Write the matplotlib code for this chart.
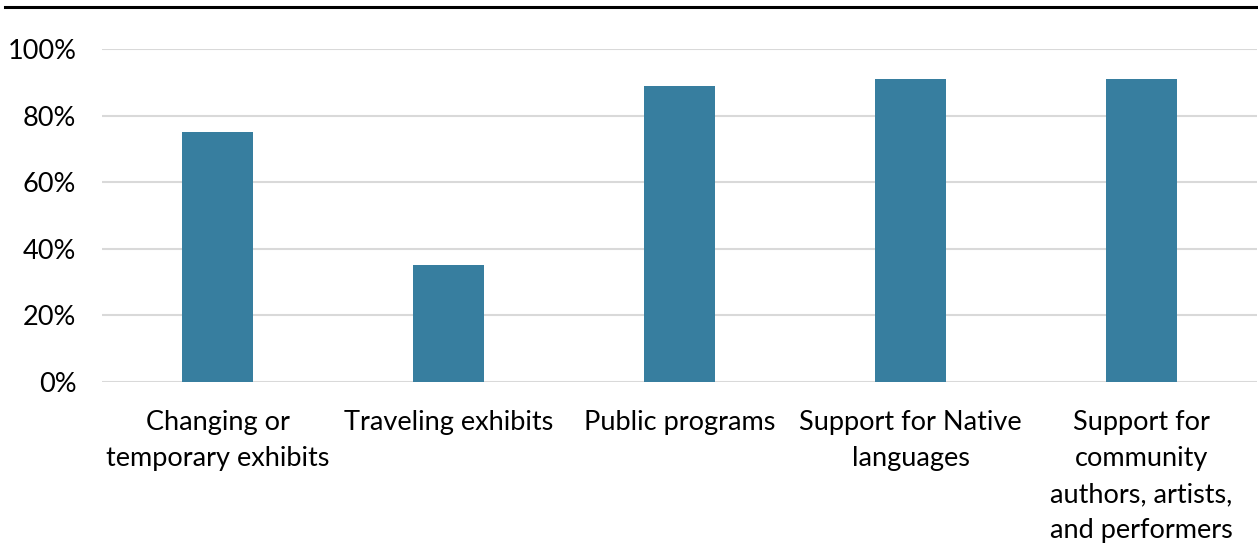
import matplotlib
matplotlib.use("Agg")
import matplotlib.pyplot as plt
from matplotlib.lines import Line2D
from matplotlib.ticker import PercentFormatter

categories = [
    "Changing or\ntemporary exhibits",
    "Traveling exhibits",
    "Public programs",
    "Support for Native\nlanguages",
    "Support for\ncommunity\nauthors, artists,\nand performers",
]
values = [75, 35, 89, 91, 91]

BAR_COLOR = "#377E9F"
GRID_COLOR = "#D9D9D9"

plt.rcParams["font.family"] = ["Lato", "DejaVu Sans"]

fig = plt.figure(figsize=(12.58, 5.6), dpi=100)
ax = fig.add_axes([102 / 1258, 1 - 382 / 560, 1155 / 1258, 333 / 560])

x = range(len(categories))
ax.bar(x, values, width=0.31, color=BAR_COLOR, zorder=3)

ax.set_xlim(-0.5, len(categories) - 0.5)
ax.set_ylim(0, 100)
ax.set_yticks([0, 20, 40, 60, 80, 100])
ax.yaxis.set_major_formatter(PercentFormatter(decimals=0))
ax.grid(axis="y", color=GRID_COLOR, linewidth=1.5, zorder=0)
ax.set_xticks(list(x))
ax.set_xticklabels(categories, linespacing=1.54, va="top")
ax.tick_params(axis="both", length=0, labelsize=19.5, colors="black")
ax.tick_params(axis="x", pad=20.5)
ax.tick_params(axis="y", pad=18.5)
for s in ax.spines.values():
    s.set_visible(False)

# rule under the (cropped) title
fig.add_artist(Line2D([5 / 1258, 1.0], [1 - 7 / 560, 1 - 7 / 560],
                      color="black", linewidth=2.2, transform=fig.transFigure))

fig.savefig("out.png", dpi=100)
